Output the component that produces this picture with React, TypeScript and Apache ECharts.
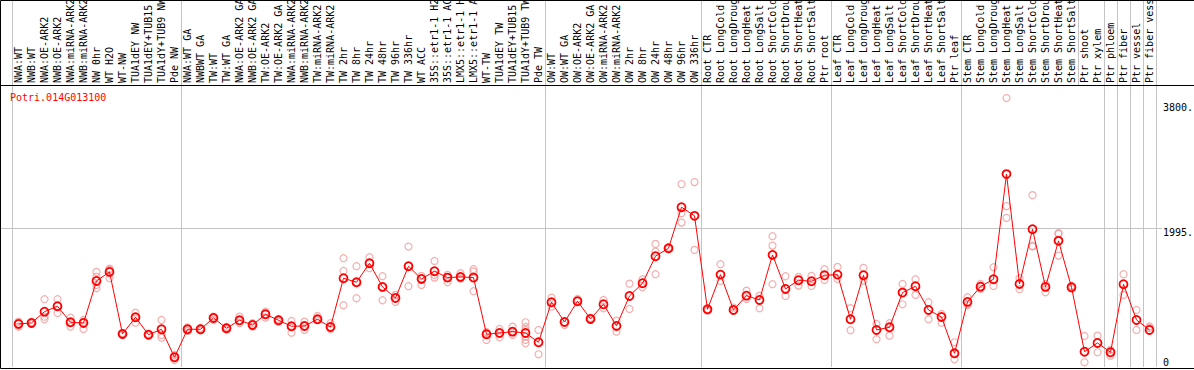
import React, { useEffect, useRef } from "react";
import * as echarts from "echarts";

const title = "Potri.014G013100";

const categories = [
  "NWA:WT", "NWB:WT", "NWA:OE-ARK2", "NWB:OE-ARK2", "NWA:miRNA-ARK2", "NWB:miRNA-ARK2",
  "NW 0hr", "WT H2O", "WT-NW", "TUA1dEY NW", "TUA1dEY+TUB15", "TUA1dY+TUB9 NW", "Pde NW",
  "NWA:WT GA", "NWBWT GA", "TW:WT", "TW:WT GA", "NWA:OE-ARK2 GA", "NWB:OE-ARK2 GA",
  "TW:OE-ARK2", "TW:OE-ARK2 GA", "NWA:miRNA-ARK2", "NWB:miRNA-ARK2", "TW:miRNA-ARK2",
  "TW:miRNA-ARK2", "TW 2hr", "TW 8hr", "TW 24hr", "TW 48hr", "TW 96hr", "TW 336hr", "WT ACC",
  "35S::etr1-1 H2", "35S::etr1-1 AC", "LMX5::etr1-1 H", "LMX5::etr1-1 A", "WT-TW",
  "TUA1dEY TW", "TUA1dEY+TUB15", "TUA1dY+TUB9 TW", "Pde TW",
  "OW:WT", "OW:WT GA", "OW:OE-ARK2", "OW:OE-ARK2 GA", "OW:miRNA-ARK2", "OW:miRNA-ARK2",
  "OW 2hr", "OW 8hr", "OW 24hr", "OW 48hr", "OW 96hr", "OW 336hr",
  "Root CTR", "Root LongCold", "Root LongDroug", "Root LongHeat", "Root LongSalt",
  "Root ShortCold", "Root ShortDrou", "Root ShortHeat", "Root ShortSalt", "Ptr root",
  "Leaf CTR", "Leaf LongCold", "Leaf LongDroug", "Leaf LongHeat", "Leaf LongSalt",
  "Leaf ShortCold", "Leaf ShortDrou", "Leaf ShortHeat", "Leaf ShortSalt", "Ptr leaf",
  "Stem CTR", "Stem LongCold", "Stem LongDroug", "Stem LongHeat", "Stem LongSalt",
  "Stem ShortCold", "Stem ShortDrou", "Stem ShortHeat", "Stem ShortSalt",
  "Ptr shoot", "Ptr xylem", "Ptr phloem", "Ptr fiber", "Ptr vessel", "Ptr fiber vess",
];

const means = [
  620, 634, 797, 875, 644, 634, 1239, 1369, 476, 716, 465, 543, 140,
  543, 543, 706, 558, 673, 605, 759, 673, 586, 591, 687, 576, 1278, 1220, 1494, 1153, 994,
  1451, 1268, 1379, 1287, 1297, 1287, 471, 490, 509, 490, 356,
  932, 648, 947, 692, 903, 591, 1023, 1206, 1595, 1710, 2301, 2176,
  831, 1330, 821, 1027, 965, 1614, 1124, 1249, 1235, 1321,
  1330, 687, 1321, 533, 572, 1071, 1163, 821, 720, 197,
  937, 1157, 1264, 2777, 1196, 1984, 1153, 1816, 1148,
  220, 346, 212, 1192, 677, 533,
];

const replicates = [
  [653, 581, 620], [648, 620, 634], [976, 725, 687], [976, 879, 778], [710, 581, 644],
  [677, 548, 648], [1369, 1301, 1182, 1134], [1416, 1398, 1278], [490, 476, 461],
  [782, 638, 720], [476, 454, 465], [677, 461, 422], [173, 101, 144],
  [572, 519, 543], [562, 526, 543], [725, 677, 706], [576, 540, 558], [725, 630, 663],
  [630, 581, 605], [797, 710, 764], [692, 653, 673], [663, 494, 591], [653, 533, 591],
  [735, 677, 692], [630, 543, 576], [1566, 1383, 889], [1451, 990, 1220], [1581, 1422, 1499],
  [1307, 961, 1153], [1038, 937, 994], [1734, 1163, 1455], [1311, 1182, 1268],
  [1527, 1287, 1326], [1326, 1220, 1287], [1350, 1273, 1297], [1408, 1373, 1091],
  [504, 389, 476], [548, 428, 490], [581, 461, 509], [644, 576, 533, 437, 389, 342], [533, 183],
  [999, 869], [648, 605], [980, 947], [706, 677], [965, 846], [667, 509], [1200, 836],
  [1264, 1148], [1772, 1661, 1336], [1700, 1720], [2633, 2215, 2079], [2662, 1686],
  [811, 831], [1480, 1239], [855, 821], [1099, 980], [1027, 846], [1883, 1748, 1192],
  [1307, 1023], [1297, 1172], [1311, 1167], [1408, 1254],
  [1441, 1268], [846, 529], [1427, 1244], [620, 399], [630, 451], [1196, 903], [1264, 1038],
  [932, 687], [764, 638], [356, 111],
  [1004, 893], [1196, 1124], [1437, 1167], [3872, 2316, 2147], [1278, 1120],
  [2474, 1744, 1734], [1196, 1076], [1927, 1604, 1917], [1167, 1131],
  [447, 68], [451, 212], [245, 163], [1336, 1038], [821, 533], [584, 562],
];

const plotGroupStarts = [0, 13, 41, 53, 63, 73, 84, 85, 86, 87];
const headerGroupStarts = [0, 13, 41, 53, 63, 73, 82, 84, 85, 86, 87];
const yTickValues = [3800, 1995, 0];
const referenceValue = 1995;
const yMax = 4060;

export default function App() {
  const ref = useRef<HTMLDivElement>(null);

  useEffect(() => {
    const el = ref.current;
    if (!el) return;
    const chart = echarts.init(el, null, { renderer: "svg" });
    const font = "DejaVu Sans Mono";
    const colW = 13;
    const left = 12;
    const plotTop = 85;
    const plotBottom = 367;
    const plotWidth = categories.length * colW;
    const gray = "#c4c4c4";
    const scatterData: number[][] = [];
    replicates.forEach((reps, i) => reps.forEach((v) => scatterData.push([i, v])));

    chart.setOption({
      animation: false,
      grid: [
        { left, top: plotTop, width: plotWidth, height: plotBottom - plotTop, containLabel: false, outerBoundsMode: "none" },
        { left, top: 0, width: plotWidth, height: plotTop, containLabel: false, outerBoundsMode: "none" },
      ],
      xAxis: [
        {
          type: "category",
          gridIndex: 0,
          data: categories,
          position: "top",
          boundaryGap: true,
          axisLine: { show: false },
          axisTick: { show: false },
          axisLabel: {
            interval: 0,
            rotate: 90,
            margin: 2,
            fontFamily: font,
            fontSize: 10,
            color: "#000",
            hideOverlap: false,
          },
          splitLine: {
            show: true,
            interval: (idx: number) => plotGroupStarts.indexOf(idx) >= 0,
            lineStyle: { color: gray, width: 1 },
          },
        },
        {
          type: "category",
          gridIndex: 1,
          data: categories,
          position: "bottom",
          boundaryGap: true,
          axisLine: { show: false },
          axisTick: { show: false },
          axisLabel: { show: false },
          splitLine: {
            show: true,
            interval: (idx: number) => headerGroupStarts.indexOf(idx) >= 0,
            lineStyle: { color: gray, width: 1 },
          },
        },
      ],
      yAxis: [
        { type: "value", gridIndex: 0, min: 0, max: yMax, show: false },
        { type: "value", gridIndex: 1, min: 0, max: 1, show: false },
      ],
      series: [
        {
          type: "scatter",
          xAxisIndex: 0,
          yAxisIndex: 0,
          data: scatterData,
          symbol: "circle",
          symbolSize: 7,
          itemStyle: { color: "transparent", borderColor: "#f09a9a", borderWidth: 1.2 },
          z: 2,
        },
        {
          type: "line",
          xAxisIndex: 0,
          yAxisIndex: 0,
          data: means,
          symbol: "circle",
          symbolSize: 8,
          showAllSymbol: true,
          itemStyle: { color: "transparent", borderColor: "#ff0000", borderWidth: 1.8 },
          lineStyle: { color: "#ff0000", width: 1 },
          z: 3,
        },
      ],
    });

    const yPix = (v: number) => chart.convertToPixel({ yAxisIndex: 0 }, v) as number;
    const refY = Math.round(yPix(referenceValue)) + 0.5;
    const labelGraphics = yTickValues.map((v) => ({
      type: "text",
      x: 1163,
      y: v === 0 ? yPix(v) - 5 : yPix(v) + 4.5,
      style: {
        text: v === 0 ? "0" : String(v) + ".",
        font: `10px '${font}'`,
        fill: "#000",
        verticalAlign: "middle",
        align: "left",
      },
    }));

    chart.setOption({
      graphic: [
        {
          type: "polyline",
          shape: { points: [[1194, 0.5], [0.5, 0.5], [0.5, 368.5], [1194, 368.5]] },
          style: { fill: "none", stroke: "#000", lineWidth: 1 },
          z: 10,
        },
        {
          type: "line",
          shape: { x1: 0, y1: plotTop + 0.5, x2: 1194, y2: plotTop + 0.5 },
          style: { stroke: "#000", lineWidth: 1 },
          z: 10,
        },
        {
          type: "line",
          shape: { x1: 1, y1: refY, x2: 1162, y2: refY },
          style: { stroke: gray, lineWidth: 1 },
          z: 0,
        },
        {
          type: "text",
          x: 10,
          y: 97,
          style: { text: title, font: `10px '${font}'`, fill: "#ff0000", verticalAlign: "middle", align: "left" },
        },
        ...labelGraphics,
      ],
    });

    return () => chart.dispose();
  }, []);

  return (
    <div
      ref={ref}
      style={{ position: "fixed", left: 0, top: 0, width: 1194, height: 370, background: "#fff" }}
    />
  );
}
